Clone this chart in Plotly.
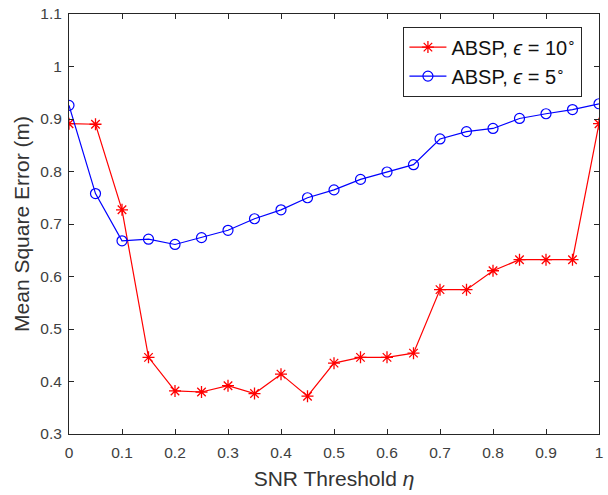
import plotly.graph_objects as go

# SNR threshold values
eta = [0.00, 0.05, 0.10, 0.15, 0.20, 0.25, 0.30, 0.35, 0.40, 0.45, 0.50,
       0.55, 0.60, 0.65, 0.70, 0.75, 0.80, 0.85, 0.90, 0.95, 1.00]

# Mean square error (m) for the two tolerance settings
mse_eps10 = [0.891, 0.890, 0.727, 0.446, 0.382, 0.380, 0.392, 0.377, 0.414, 0.372, 0.435,
             0.446, 0.446, 0.454, 0.575, 0.575, 0.611, 0.632, 0.632, 0.632, 0.891]
mse_eps5 = [0.926, 0.758, 0.668, 0.671, 0.661, 0.674, 0.688, 0.710, 0.727, 0.750, 0.765,
            0.785, 0.799, 0.813, 0.862, 0.876, 0.882, 0.901, 0.910, 0.918, 0.929]

x_ticks = [0, 0.1, 0.2, 0.3, 0.4, 0.5, 0.6, 0.7, 0.8, 0.9, 1]
y_ticks = [0.3, 0.4, 0.5, 0.6, 0.7, 0.8, 0.9, 1.0, 1.1]

FONT = "Liberation Sans, Arial, Helvetica, sans-serif"
AX = "#262626"

fig = go.Figure()
fig.add_trace(go.Scatter(
    x=eta, y=mse_eps10, mode="lines+markers",
    name="ABSP, <i>ϵ</i> = 10<sup>∘</sup>",
    line=dict(color="#ff0000", width=1.2),
    marker=dict(symbol="asterisk-open", size=10, color="#ff0000",
                line=dict(color="#ff0000", width=1.3)),
))
fig.add_trace(go.Scatter(
    x=eta, y=mse_eps5, mode="lines+markers",
    name="ABSP, <i>ϵ</i> = 5<sup>∘</sup>",
    line=dict(color="#0000ff", width=1.2),
    marker=dict(symbol="circle-open", size=10, color="#0000ff",
                line=dict(color="#0000ff", width=1.2)),
))

axis_common = dict(
    showgrid=False, zeroline=False,
    showline=True, linecolor=AX, linewidth=1, mirror="ticks",
    ticks="inside", ticklen=5, tickwidth=1, tickcolor=AX,
    tickfont=dict(family=FONT, size=15.5, color="#404040"),
)

fig.update_xaxes(
    range=[0, 1], tickvals=x_ticks, ticktext=[f"{v:g}" for v in x_ticks],
    ticklabelstandoff=4,
    title=dict(text="SNR Threshold <i>η</i>", standoff=11,
               font=dict(family=FONT, size=21, color="#333333")),
    **axis_common,
)
fig.update_yaxes(
    range=[0.3, 1.1], tickvals=y_ticks, ticktext=[f"{v:g}" for v in y_ticks],
    ticklabelstandoff=3,
    title=dict(text="Mean Square Error (m)", standoff=4,
               font=dict(family=FONT, size=21, color="#333333")),
    **axis_common,
)

fig.update_layout(
    width=608, height=495,
    margin=dict(l=69, r=5, t=12, b=61),
    paper_bgcolor="white", plot_bgcolor="white",
    font=dict(family=FONT, color="#111111"),
    showlegend=True,
    legend=dict(
        x=0.631, y=0.97, xanchor="left", yanchor="top",
        bgcolor="white", bordercolor=AX, borderwidth=1,
        font=dict(family=FONT, size=20, color="#111111"),
        itemwidth=37, tracegroupgap=0,
    ),
)

fig.write_html("out.html")
